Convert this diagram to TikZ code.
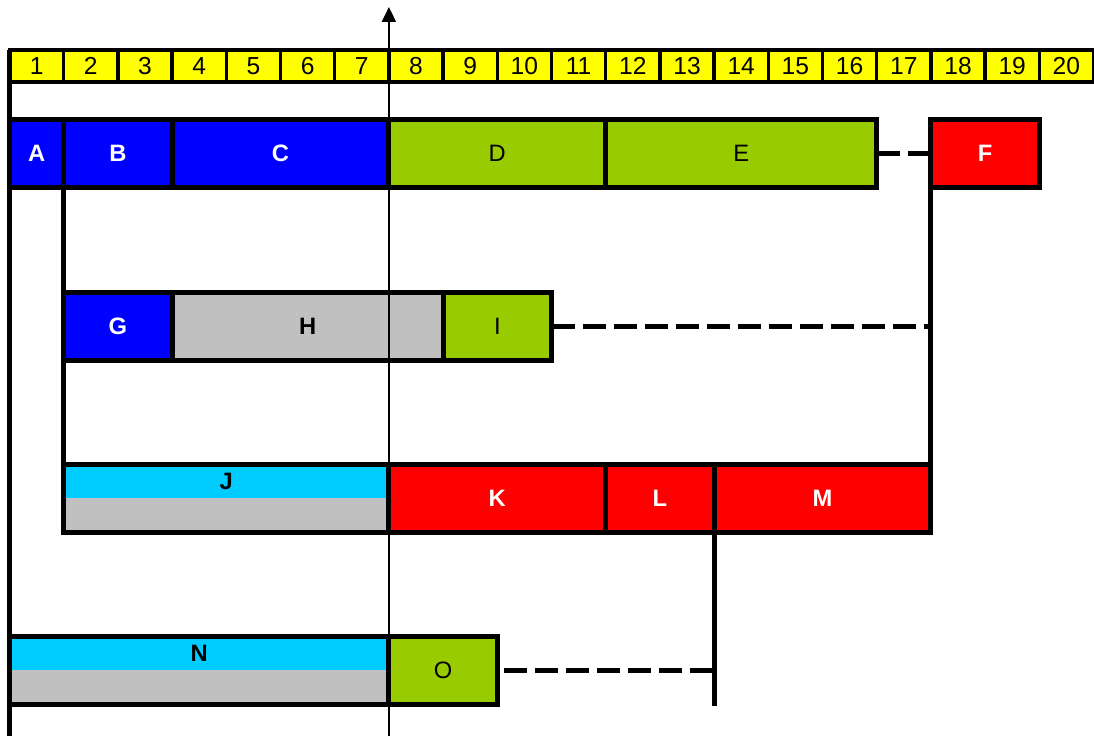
\documentclass[tikz,border=0pt]{standalone}
\usepackage{fontspec}
\setmainfont{Liberation Sans}
\usetikzlibrary{arrows.meta}
\definecolor{hyellow}{HTML}{FFFF00}
\definecolor{tblue}{HTML}{0000FF}
\definecolor{tgreen}{HTML}{99CC00}
\definecolor{tred}{HTML}{FF0000}
\definecolor{tcyan}{HTML}{00CCFF}
\definecolor{tgray}{HTML}{C0C0C0}
\begin{document}
\begin{tikzpicture}[
  x=1.084cm, y=-0.02cm,
  every node/.style={font=\fontsize{13.5}{16}\selectfont},
  hcell/.style={draw, fill=hyellow, line width=0.07cm, minimum width=1.084cm,
    minimum height=0.64cm, inner sep=0, outer sep=0, font=\fontsize{14}{16}\selectfont},
  span/.style={minimum width=#1*1.084cm},
  task/.style={draw, line width=0.1cm, inner sep=0, outer sep=0, minimum height=1.36cm, anchor=west},
  bluebox/.style={task, fill=tblue, text=white, font=\fontsize{13.5}{16}\selectfont\bfseries},
  redbox/.style={task, fill=tred, text=white, font=\fontsize{13.5}{16}\selectfont\bfseries},
  greenbox/.style={task, fill=tgreen},
  graybox/.style={task, fill=tgray, font=\fontsize{13.5}{16}\selectfont\bfseries},
  splitbox/.style={task, fill=tgray, path picture={
    \fill[tcyan] (path picture bounding box.north west) rectangle (path picture bounding box.east);}},
  splittext/.style={font=\fontsize{13.5}{16}\selectfont\bfseries},
  link/.style={line width=0.1cm},
  wait/.style={line width=0.1cm, dash pattern=on 0.46cm off 0.16cm},
  axis/.style={line width=0.04cm, -{Triangle[width=0.28cm,length=0.3cm]}}
]
\useasboundingbox (-0.1753,0) rectangle (20.009,736);
% time scale
\foreach \i in {1,...,20}
  \node[hcell] (h\i) at (\i-0.5,66) {\i};
% first row
\node[bluebox, span=1] (A) at (0,153.5) {A};
\node[bluebox, span=2] (B) at (1,153.5) {B};
\node[bluebox, span=4] (C) at (3,153.5) {C};
\node[greenbox, span=4] (D) at (7,153.5) {D};
\node[greenbox, span=5] (E) at (11,153.5) {E};
\node[redbox, span=2] (F) at (17,153.5) {F};
% second row
\node[bluebox, span=2] (G) at (1,326.5) {G};
\node[graybox, span=5] (H) at (3,326.5) {H};
\node[greenbox, span=2] (I) at (8,326.5) {I};
% third row
\node[splitbox, span=6] (J) at (1,498) {};
\node[splittext] (Jt) at ([yshift=0.34cm]J.center) {J};
\node[redbox, span=4] (K) at (7,498) {K};
\node[redbox, span=2] (L) at (11,498) {L};
\node[redbox, span=4] (M) at (13,498) {M};
% fourth row
\node[splitbox, span=7] (N) at (0,670) {};
\node[splittext] (Nt) at ([yshift=0.34cm]N.center) {N};
\node[greenbox, span=2] (O) at (7,670) {O};
% links
\coordinate (leftEnd) at (0,736);
\coordinate (lEnd) at (13,706);
\draw[link] (h1.north west) -- (leftEnd);
\draw[link] (B.south west) -- (J.north west);
\draw[link] (F.north west) -- (M.north east);
\draw[link] (L.south east) -- (lEnd);
\draw[wait] (E.east) -- (F.west);
\draw[wait] (I.east) -- (I.east -| F.west);
\draw[wait] ([xshift=0.14cm]O.east) -- (O.east -| lEnd);
% now
\coordinate (axBot) at (7,736);
\coordinate (axTop) at (7,7);
\draw[axis] (axBot) -- (axTop);
\end{tikzpicture}
\end{document}
